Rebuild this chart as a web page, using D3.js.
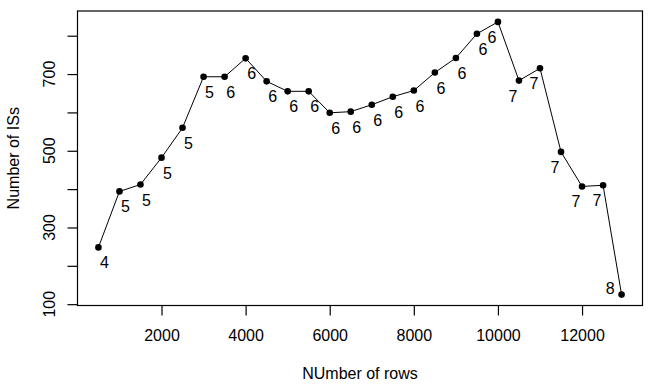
<!DOCTYPE html>
<html>
<head>
<meta charset="utf-8">
<script src="https://cdn.jsdelivr.net/npm/d3@7"></script>
<style>
    body { margin: 0; background: white; }
    svg text { font-family: "Liberation Sans", Arial, sans-serif; fill: #000; }
</style>
</head>
<body>
<div id="chart"></div>
<script>
// 1. DATA
const rows = [500, 1000, 1500, 2000, 2500, 3000, 3500, 4000, 4500, 5000, 5500, 6000, 6500,
    7000, 7500, 8000, 8500, 9000, 9500, 10000, 10500, 11000, 11500, 12000, 12500, 12940];
const iss = [248, 394, 412, 482, 560, 693, 693, 741, 681, 655, 655, 599, 602,
    620, 641, 657, 704, 742, 805, 836, 683, 715, 497, 407, 410, 125];
const groups = [4, 5, 5, 5, 5, 5, 6, 6, 6, 6, 6, 6, 6,
    6, 6, 6, 6, 6, 6, 6, 7, 7, 7, 7, 7, 8];
const xTicks = [2000, 4000, 6000, 8000, 10000, 12000];
const yTicks = [100, 200, 300, 400, 500, 600, 700, 800];
const yLabelled = [100, 300, 500, 700];

const data = rows.map((r, i) => ({ rows: r, iss: iss[i], group: groups[i] }));

// 2. SETUP
const width = 652;
const height = 385;
const box = { left: 77.5, right: 642.5, top: 11, bottom: 305.5 };

const svg = d3.select("#chart")
    .append("svg")
    .attr("width", width)
    .attr("height", height);

// R style axis range: data extent padded 4% each side
function pad(ext) {
    const d = (ext[1] - ext[0]) * 0.04;
    return [ext[0] - d, ext[1] + d];
}

const x = d3.scaleLinear()
    .domain(pad(d3.extent(rows)))
    .range([box.left, box.right]);

const y = d3.scaleLinear()
    .domain(pad(d3.extent(iss)))
    .range([box.bottom, box.top]);

// --- BOX ---
svg.append("rect")
    .attr("x", box.left)
    .attr("y", box.top)
    .attr("width", box.right - box.left)
    .attr("height", box.bottom - box.top)
    .attr("fill", "none")
    .attr("stroke", "#000")
    .attr("stroke-width", 1.2);

// --- AXES ---
svg.append("g")
    .attr("transform", `translate(0, ${box.bottom})`)
    .call(d3.axisBottom(x).tickValues(xTicks).tickSize(10).tickPadding(14).tickFormat(d3.format("d")))
    .call(g => g.select(".domain").remove())
    .call(g => g.selectAll("line").attr("stroke", "#000").attr("stroke-width", 1.2))
    .call(g => g.selectAll("text")
        .attr("font-size", "16px")
        .attr("font-family", "Liberation Sans, Arial, sans-serif")
        .attr("fill", "#000"));

const yAxis = svg.append("g")
    .attr("transform", `translate(${box.left}, 0)`)
    .call(d3.axisLeft(y).tickValues(yTicks).tickSize(10).tickFormat(""))
    .call(g => g.select(".domain").remove())
    .call(g => g.selectAll("line").attr("stroke", "#000").attr("stroke-width", 1.2));

// rotated y tick labels (only every other one fits)
svg.append("g")
    .selectAll("text")
    .data(yLabelled)
    .join("text")
    .attr("transform", d => `translate(55, ${y(d)}) rotate(-90)`)
    .attr("text-anchor", "middle")
    .attr("font-size", "16px")
    .text(d => d);

// axis titles
svg.append("text")
    .attr("x", (box.left + box.right) / 2)
    .attr("y", 379)
    .attr("text-anchor", "middle")
    .attr("font-size", "16px")
    .text("NUmber of rows");

svg.append("text")
    .attr("transform", `translate(19, ${(box.top + box.bottom) / 2}) rotate(-90)`)
    .attr("text-anchor", "middle")
    .attr("font-size", "16px")
    .text("Number of ISs");

// --- LINE + POINTS ---
const line = d3.line()
    .x(d => x(d.rows))
    .y(d => y(d.iss));

svg.append("path")
    .datum(data)
    .attr("d", line)
    .attr("fill", "none")
    .attr("stroke", "#000")
    .attr("stroke-width", 1);

svg.append("g")
    .selectAll("circle")
    .data(data)
    .join("circle")
    .attr("cx", d => x(d.rows))
    .attr("cy", d => y(d.iss))
    .attr("r", 3.3)
    .attr("fill", "#000");

// --- GROUP LABELS ---
// below-right for the early points, below-left from 10000 on, last one to the left
const last = data.length - 1;
svg.append("g")
    .selectAll("text")
    .data(data)
    .join("text")
    .attr("x", (d, i) => i === last ? x(d.rows) - 7 : x(d.rows) + (d.rows < 10000 ? 6 : -6))
    .attr("y", (d, i) => i === last ? y(d.iss) - 0.5 : y(d.iss) + 21)
    .attr("text-anchor", (d, i) => i === last ? "end" : "middle")
    .attr("font-size", "16px")
    .text(d => d.group);
</script>
</body>
</html>
